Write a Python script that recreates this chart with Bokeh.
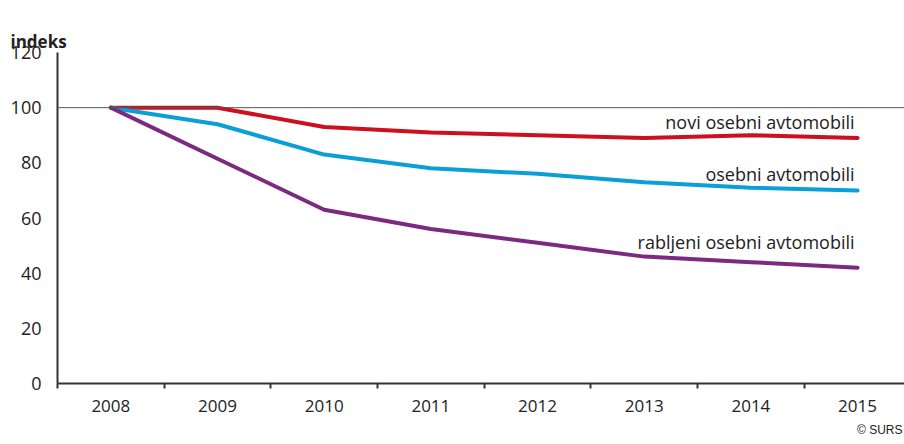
from bokeh.plotting import figure
from bokeh.models import Range1d, FixedTicker, ColumnDataSource, Span, Title, LinearAxis
from bokeh.embed import file_html
from bokeh.resources import INLINE
from bokeh.core.properties import value

years = ["2008", "2009", "2010", "2011", "2012", "2013", "2014", "2015"]
novi = [100, 100, 93, 91, 90, 89, 90, 89]
osebni = [100, 94, 83, 78, 76, 73, 71, 70]
rabljeni = [100, 81.5, 63, 56, 51, 46, 44, 42]
y_ticks = [0, 20, 40, 60, 80, 100, 120]
series_names = ["novi osebni avtomobili", "osebni avtomobili", "rabljeni osebni avtomobili"]

FONT = "Open Sans"
xs = [i + 0.5 for i in range(len(years))]

p = figure(width=904, height=444, output_backend="svg", toolbar_location=None, title=None,
           x_range=Range1d(0, len(years) - 0.06), y_range=Range1d(0, 120),
           min_border_left=57, min_border_right=0, min_border_top=52, min_border_bottom=61,
           x_axis_type=None, y_axis_type=None)
p.outline_line_color = None
p.background_fill_color = "white"

# axes
xaxis = LinearAxis(ticker=FixedTicker(ticks=xs, minor_ticks=list(range(len(years) + 1))))
xaxis.major_label_overrides = {x: y for x, y in zip(xs, years)}
xaxis.major_tick_in = 0
xaxis.major_tick_out = 0
xaxis.minor_tick_in = 0
xaxis.minor_tick_out = 5
xaxis.minor_tick_line_width = 2
xaxis.minor_tick_line_color = "#333333"
xaxis.axis_line_width = 2
xaxis.axis_line_color = "#333333"
xaxis.major_label_standoff = 11
xaxis.major_label_text_font = FONT
xaxis.major_label_text_font_size = "17px"
xaxis.major_label_text_color = "#222222"
p.add_layout(xaxis, "below")

yaxis = LinearAxis(ticker=FixedTicker(ticks=y_ticks))
yaxis.major_tick_in = 0
yaxis.major_tick_out = 0
yaxis.minor_tick_line_color = None
yaxis.axis_line_width = 2
yaxis.axis_line_color = "#333333"
yaxis.major_label_standoff = 16
yaxis.major_label_text_font = FONT
yaxis.major_label_text_font_size = "18px"
yaxis.major_label_text_color = "#222222"
p.add_layout(yaxis, "left")

p.ygrid.ticker = FixedTicker(ticks=[t for t in y_ticks if t not in (0, 100)])
p.ygrid.grid_line_color = "#cccccc"
p.ygrid.grid_line_width = 1
p.xgrid.grid_line_color = None
p.add_layout(Span(location=100, dimension="width", line_color="#555555", line_width=1))

colors = ["#cc1020", "#0a9fd6", "#7b2a80"]
series = [novi, osebni, rabljeni]
for vals, c in zip(series, colors):
    p.line(xs, vals, line_color=c, line_width=4, line_join="round", line_cap="round")

# labels for lines
offsets = [-16, -16, -26]
src = ColumnDataSource(dict(x=[xs[-1]] * 3, y=[s[-1] for s in series], t=series_names, yo=offsets))
p.text(x="x", y="y", text="t", source=src, x_offset=-3, y_offset="yo",
       text_align="right", text_baseline="middle", text_font=value(FONT),
       text_font_size="18px", text_color="#222222")

p.add_layout(Title(text="indeks", text_font=FONT, text_font_style="bold",
                   text_font_size="17px", text_color="#222222", align="left",
                   offset=-47, standoff=0), "above")

credit = Title(text="© SURS", align="right", text_font="Liberation Sans",
               text_font_size="12px", text_font_style="normal", text_color="#222222",
               offset=2, standoff=12)
p.add_layout(credit, "below")

open("out.html", "w").write(file_html(p, INLINE))
